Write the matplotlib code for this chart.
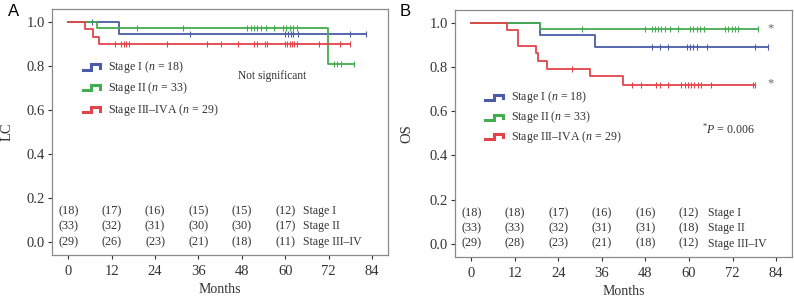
import matplotlib
matplotlib.use("Agg")
import matplotlib.pyplot as plt
from matplotlib.lines import Line2D

plt.rcParams['font.family'] = ['Liberation Serif', 'DejaVu Serif']
plt.rcParams['mathtext.fontset'] = 'custom'
plt.rcParams['mathtext.rm'] = 'Liberation Serif'
plt.rcParams['mathtext.it'] = 'Liberation Serif:italic'

# ---------------- data ----------------
stage_names = ["Stage I", "Stage II", "Stage III\u2013IVA"]
stage_n = [18, 33, 29]
risk_labels = ["Stage I", "Stage II", "Stage III\u2013IV"]
risk_times = [0, 12, 24, 36, 48, 60]
x_ticks = [0, 12, 24, 36, 48, 60, 72, 84]
y_ticks = [0.0, 0.2, 0.4, 0.6, 0.8, 1.0]

# Panel A (LC) step curves: event times and survival after each event
lc_I_times = [0, 13.9]
lc_I_surv = [1.0, 0.944]
lc_I_end = 82.2
lc_I_cens = [6.5, 33.7, 60.0, 60.8, 61.5, 62.2, 63.5, 77.9]
lc_II_times = [0, 7.9, 71.9]
lc_II_surv = [1.0, 0.970, 0.808]
lc_II_end = 79.0
lc_II_cens = [19.0, 31.8, 49.4, 50.5, 51.4, 52.3, 53.2, 54.6, 56.9, 59.4, 60.3, 61.2,
              62.1, 63.3, 73.4, 74.3, 75.3]
lc_III_times = [0, 4.7, 6.8, 8.6]
lc_III_surv = [1.0, 0.966, 0.931, 0.897]
lc_III_end = 77.9
lc_III_cens = [12.8, 14.6, 15.3, 16.0, 16.8, 27.2, 38.3, 42.2, 46.8, 51.3, 52.1, 54.4,
               54.9, 60.0, 60.5, 61.2, 61.9, 62.5, 63.2, 69.2, 75.1]
lc_risk = [[18, 17, 16, 15, 15, 12], [33, 32, 31, 30, 30, 17], [29, 26, 23, 21, 18, 11]]

# Panel B (OS)
os_I_times = [0, 18.9, 34.0]
os_I_surv = [1.0, 0.944, 0.889]
os_I_end = 81.9
os_I_cens = [49.7, 52.0, 54.3, 59.4, 60.3, 61.2, 62.1, 64.9, 78.2]
os_II_times = [0, 18.9]
os_II_surv = [1.0, 0.970]
os_II_end = 79.1
os_II_cens = [30.4, 47.8, 49.7, 50.6, 51.5, 52.4, 53.4, 54.7, 57.0, 60.3, 61.2, 62.1,
              63.0, 64.0, 69.9, 70.8, 71.8, 72.7, 73.6]
os_III_times = [0, 9.9, 12.9, 17.9, 18.5, 20.9, 32.8, 41.9]
os_III_surv = [1.0, 0.966, 0.897, 0.862, 0.828, 0.793, 0.758, 0.720]
os_III_end = 78.2
os_III_cens = [27.8, 44.4, 46.9, 51.0, 52.0, 54.3, 57.9, 58.8, 59.7, 60.6, 61.5, 62.4,
               63.3, 66.2, 77.7]
os_risk = [[18, 18, 17, 16, 16, 12], [33, 33, 32, 31, 31, 18], [29, 28, 23, 21, 18, 12]]

colors = ["#4a5ca8", "#44ad4f", "#e2444b"]
frame_col = "#8a8a8a"
text_col = "#333333"

fig = plt.figure(figsize=(7.94, 2.97), dpi=100)
axA = fig.add_axes([0.0655, 0.1414, 0.4232, 0.8283])
axB = fig.add_axes([0.5731, 0.1347, 0.4244, 0.8316])


def surv_at(times, surv, t):
    s = surv[0]
    for ti, si in zip(times, surv):
        if t >= ti:
            s = si
    return s


def draw_curve(ax, times, surv, end, cens, col):
    xs = list(times) + [end]
    ys = list(surv) + [surv[-1]]
    ax.step(xs, ys, where='post', color=col, lw=1.3, zorder=3)
    cy = [surv_at(times, surv, c) for c in cens + [end]]
    ax.plot(cens + [end], cy, ls='none', marker='|', ms=4, mew=0.8, color=col, zorder=3)


def style_axes(ax, ylabel, lx):
    ax.set_xlim(-4.5, 88.4)
    ax.set_ylim(-0.06, 1.058)
    ax.set_xticks(x_ticks)
    ax.set_yticks(y_ticks)
    ax.set_yticklabels([f"{v:.1f}" for v in y_ticks])
    for sp in ax.spines.values():
        sp.set_color(frame_col)
        sp.set_linewidth(0.9)
    ax.tick_params(colors=text_col, labelsize=10.5, length=3, width=0.8, pad=2)
    ax.tick_params(axis='x', pad=4)
    ax.set_xlabel("Months", fontsize=10, color=text_col, labelpad=4)
    ax.set_ylabel(ylabel, fontsize=10.5, color=text_col)
    ax.yaxis.set_label_coords(lx, 0.5)


def legend_icons(ax, x0, x1, ys, xt, labels):
    for y, col, lab in zip(ys, colors, labels):
        w = x1 - x0
        hx = [x0, x0 + 0.5 * w, x0 + 0.5 * w, x1, x1]
        hy = [y - 0.012, y - 0.012, y + 0.012, y + 0.012, y - 0.004]
        ax.add_line(Line2D(hx, hy, color=col, lw=2.2, solid_joinstyle='miter', zorder=4))
        ax.text(xt, y, lab, fontsize=8.6, va='center', ha='left', color=text_col)


def risk_table(ax, risk, xlab):
    rows_y = [0.14, 0.07, 0.0]
    for r, y in enumerate(rows_y):
        for t, v in zip(risk_times, risk[r]):
            ax.text(t, y, f"({v})", fontsize=8.8, ha='center', va='center', color=text_col)
        ax.text(xlab, y, risk_labels[r], fontsize=8.5, ha='left', va='center', color=text_col)


labels = [f"{s} ($n$ = {n})" for s, n in zip(stage_names, stage_n)]

# Panel A
draw_curve(axA, lc_I_times, lc_I_surv, lc_I_end, lc_I_cens, colors[0])
draw_curve(axA, lc_II_times, lc_II_surv, lc_II_end, lc_II_cens, colors[1])
draw_curve(axA, lc_III_times, lc_III_surv, lc_III_end, lc_III_cens, colors[2])
style_axes(axA, "LC", -0.115)
legend_icons(axA, 4.0, 8.8, [0.795, 0.70, 0.60], 11.1, labels)
axA.text(46.8, 0.755, "Not significant", fontsize=8.3, ha='left', va='center', color=text_col)
risk_table(axA, lc_risk, 64.8)

# Panel B
draw_curve(axB, os_I_times, os_I_surv, os_I_end, os_I_cens, colors[0])
draw_curve(axB, os_II_times, os_II_surv, os_II_end, os_II_cens, colors[1])
draw_curve(axB, os_III_times, os_III_surv, os_III_end, os_III_cens, colors[2])
style_axes(axB, "OS", -0.125)
legend_icons(axB, 3.7, 8.7, [0.662, 0.572, 0.485], 10.8, labels)
axB.text(81.6, 0.975, "*", fontsize=9, ha='left', va='center', color='#666666')
axB.text(81.6, 0.725, "*", fontsize=9, ha='left', va='center', color='#666666')
axB.text(63.5, 0.518, "$^{*}$$P$ = 0.006", fontsize=8.6, ha='left', va='center', color=text_col)
risk_table(axB, os_risk, 65.3)

fig.text(8 / 794, 1 - 11 / 297, "A", fontsize=12, family='Liberation Sans', va='center', ha='left')
fig.text(400 / 794, 1 - 11 / 297, "B", fontsize=12, family='Liberation Sans', va='center', ha='left')

fig.savefig("out.png", dpi=100)
